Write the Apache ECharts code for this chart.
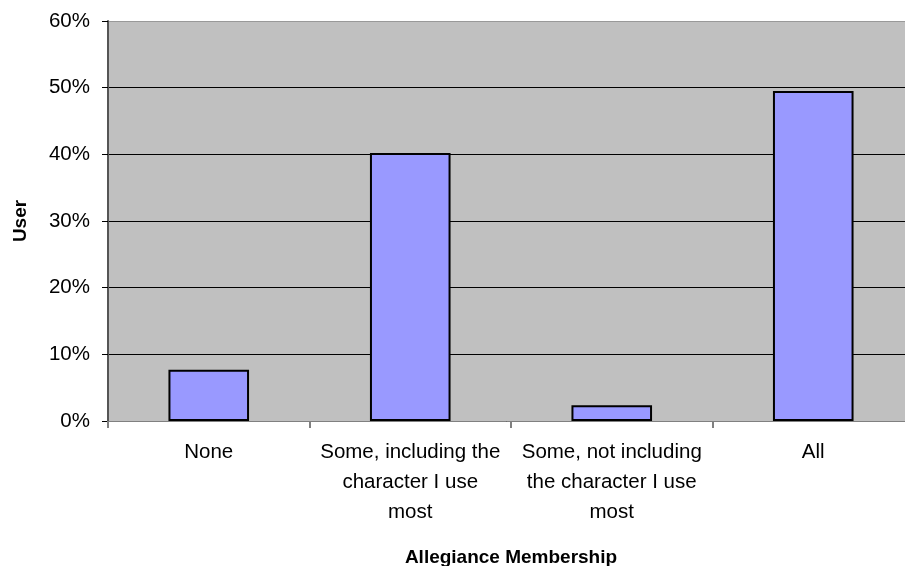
<!DOCTYPE html>
<html>
<head>
<meta charset="utf-8">
<script src="https://cdn.jsdelivr.net/npm/echarts@6/dist/echarts.min.js"></script>
<style>html,body{margin:0;padding:0;background:#fff;}#c{width:905px;height:566px;}</style>
</head>
<body>
<div id="c"></div>
<script>
const categories = ["None", "Some, including the\ncharacter I use\nmost", "Some, not including\nthe character I use\nmost", "All"];
const values = [7.7, 40.2, 2.35, 49.5];
const yTicks = [0, 10, 20, 30, 40, 50, 60];
const xTitle = "Allegiance Membership";
const yTitle = "User";

const chart = echarts.init(document.getElementById('c'), null, {renderer: 'canvas'});
chart.setOption({
  animation: false,
  grid: {left: 108, right: -9, top: 21, bottom: 145, show: true, backgroundColor: '#C0C0C0', borderWidth: 0,
         containLabel: false, outerBoundsMode: 'none'},
  xAxis: {
    type: 'category',
    data: categories,
    name: xTitle,
    nameLocation: 'middle',
    nameGap: 127,
    nameTextStyle: {fontFamily: 'Liberation Sans, Arial', fontSize: 19, fontWeight: 'bold', color: '#000'},
    axisLine: {lineStyle: {color: '#808080', width: 1}},
    axisTick: {show: true, alignWithLabel: false, length: 7, lineStyle: {color: '#808080', width: 2}},
    axisLabel: {fontFamily: 'Liberation Sans, Arial', fontSize: 20.5, color: '#000', lineHeight: 30, margin: 16, interval: 0}
  },
  yAxis: {
    type: 'value',
    min: yTicks[0],
    max: yTicks[yTicks.length - 1],
    interval: 10,
    name: yTitle,
    nameLocation: 'middle',
    nameGap: 78,
    nameTextStyle: {fontFamily: 'Liberation Sans, Arial', fontSize: 19, fontWeight: 'bold', color: '#000'},
    axisLine: {show: true, lineStyle: {color: '#555', width: 2}},
    axisTick: {show: true, length: 6, lineStyle: {color: '#000', width: 1}},
    axisLabel: {fontFamily: 'Liberation Sans, Arial', fontSize: 20.5, color: '#000', margin: 18, formatter: v => v + '%'},
    splitLine: {show: true, lineStyle: {color: ['#000', '#000', '#000', '#000', '#000', '#000', '#999'], width: 1}}
  },
  series: [{
    type: 'bar',
    data: values,
    barWidth: '40%',
    itemStyle: {color: '#9999FF', borderColor: '#000', borderWidth: 2}
  }]
});
</script>
</body>
</html>
